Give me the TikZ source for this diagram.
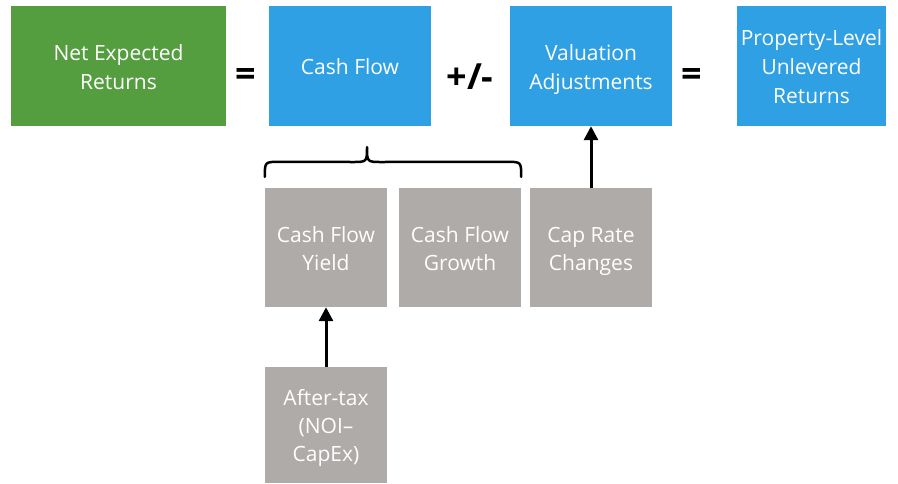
\documentclass[tikz,border=0pt]{standalone}
\usepackage{fontspec}
\setmainfont{Open Sans}
\usetikzlibrary{arrows.meta}
\definecolor{cgreen}{RGB}{85,158,64}
\definecolor{cblue}{RGB}{47,160,228}
\definecolor{cgray}{RGB}{174,171,169}
\newcommand{\mystr}{\rule[-5.5pt]{0pt}{28pt}}
\begin{document}
\begin{tikzpicture}[x=1pt,y=-1pt,
  box/.style={rectangle,draw=none,inner sep=0pt,text=white,align=center,
    font=\fontsize{21}{29}\selectfont},
  top/.style={box,minimum height=120pt},
  sub/.style={box,fill=cgray,minimum width=122pt,minimum height=119pt,
    font=\fontsize{21}{28}\selectfont},
  op/.style={font=\fontsize{36}{40}\selectfont\bfseries,text=black,inner sep=0pt},
  arr/.style={line width=3pt,-{Triangle[length=14pt,width=14pt]}},
  brace/.style={line width=2.5pt,line cap=round,line join=round}]
\useasboundingbox (0,0) rectangle (898,483);
\node[top,fill=cgreen,minimum width=215pt] (ner) at (118.5,66) {\mystr Net Expected\\\mystr Returns};
\node[op] (eq1) at (246,77) {=};
\node[top,fill=cblue,minimum width=162pt] (cf) at (350,66) {\mystr Cash Flow};
\node[op] (pm) at (470,77) {+/-};
\node[top,fill=cblue,minimum width=162pt] (va) at (591,66) {\mystr Valuation\\\mystr Adjustments};
\node[op] (eq2) at (692,77) {=};
\node[top,fill=cblue,minimum width=149pt] (plu) at (811.5,66) {\mystr Property-Level\\\mystr Unlevered\\\mystr Returns};
\node[sub] (cfy) at (326,247.5) {\mystr Cash Flow\\\mystr Yield};
\node[sub] (cfg) at (460,247.5) {\mystr Cash Flow\\\mystr Growth};
\node[sub] (crc) at (591,247.5) {\mystr Cap Rate\\\mystr Changes};
\node[sub,minimum height=116pt] (atx) at (326,425) {\mystr After-tax\\\mystr (NOI–\\\mystr CapEx)};
\coordinate (bl) at (cfy.north west);
\coordinate (br) at (cfg.north east);
\draw[brace] ([yshift=11pt]bl) .. controls ([yshift=26pt]bl) .. ([xshift=15pt,yshift=26pt]bl)
  -- (352,162) .. controls (367,162) .. (367,147)
  .. controls (367,162) .. (382,162)
  -- ([xshift=-15pt,yshift=26pt]br) .. controls ([yshift=26pt]br) .. ([yshift=11pt]br);
\draw[arr] (crc.north) -- (va.south);
\draw[arr] (atx.north) -- (cfy.south);
\end{tikzpicture}
\end{document}
